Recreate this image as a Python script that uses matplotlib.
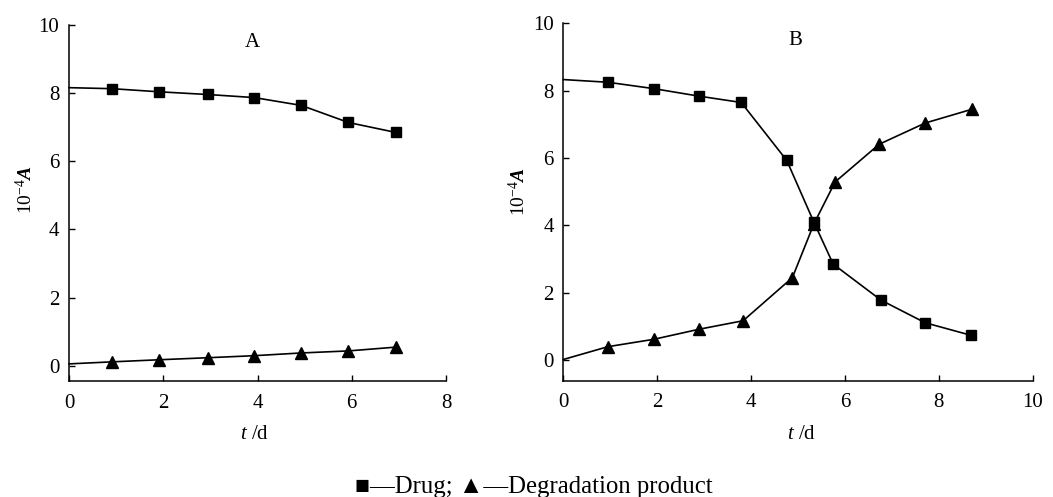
import matplotlib
matplotlib.use("Agg")
import matplotlib.pyplot as plt

plt.rcParams["font.family"] = ["Liberation Serif", "DejaVu Serif"]
plt.rcParams["mathtext.fontset"] = "custom"
plt.rcParams["mathtext.rm"] = "Liberation Serif"
plt.rcParams["mathtext.it"] = "Liberation Serif:italic"
plt.rcParams["mathtext.bf"] = "Liberation Serif:bold:italic"

# panel A
t_a = [0, 0.92, 1.90, 2.94, 3.93, 4.93, 5.93, 6.93]
drug_a = [8.15, 8.12, 8.03, 7.95, 7.86, 7.63, 7.13, 6.84]
deg_a = [0.06, 0.12, 0.18, 0.24, 0.30, 0.38, 0.44, 0.55]

# panel B
t_b = [0, 0.95, 1.93, 2.88, 3.79, 4.76, 5.34, 5.75, 6.77, 7.71, 8.68]
drug_b = [8.33, 8.25, 8.06, 7.84, 7.65, 5.93, 4.09, 2.85, 1.78, 1.11, 0.74]
t_b2 = [0, 0.95, 1.93, 2.90, 3.83, 4.88, 5.34, 5.79, 6.73, 7.71, 8.71]
deg_b = [0.02, 0.40, 0.62, 0.92, 1.17, 2.45, 4.05, 5.29, 6.41, 7.04, 7.45]

fig = plt.figure(figsize=(10.53, 4.97), dpi=100)
ax1 = fig.add_axes([0.0655, 0.2328, 0.3581, 0.7179])
ax2 = fig.add_axes([0.535, 0.234, 0.4457, 0.7191])


def style(ax, xmax, ymin):
    ax.set_xlim(0, xmax)
    ax.set_ylim(ymin, 10)
    ax.spines["top"].set_visible(False)
    ax.spines["right"].set_visible(False)
    for s in ["left", "bottom"]:
        ax.spines[s].set_linewidth(1.1)
    ax.set_xticks(range(0, xmax + 1, 2))
    ax.set_yticks(range(0, 11, 2))
    ax.tick_params(direction="in", length=4.5, width=1.0, labelsize=15)
    ax.tick_params(axis="x", pad=9)
    ax.tick_params(axis="y", pad=7)


def draw(ax, x, y, marker, ms):
    ax.plot(x, y, color="black", lw=1.2, clip_on=False, zorder=3)
    ax.plot(x[1:], y[1:], ls="none", marker=marker, ms=ms, color="black",
            clip_on=False, zorder=4)


# A
style(ax1, 8, -0.45)
draw(ax1, t_a, drug_a, "s", 6.5)
draw(ax1, t_a, deg_a, "^", 8)
ax1.text(3.89, 9.47, "A", fontsize=15, ha="center", va="center")
ax1.set_ylabel(r"$10^{-4}\mathbf{A}$", fontsize=14)
ax1.yaxis.set_label_coords(-0.088, 0.536)
ax1.set_xlabel(r"$\mathit{t}$ /d", fontsize=15)
ax1.xaxis.set_label_coords(0.493, -0.122)

# B
style(ax2, 10, -0.61)
draw(ax2, t_b, drug_b, "s", 6.5)
draw(ax2, t_b2, deg_b, "^", 8)
ax2.text(4.94, 9.5, "B", fontsize=15, ha="center", va="center")
ax2.set_ylabel(r"$10^{-4}\mathbf{A}$", fontsize=14)
ax2.yaxis.set_label_coords(-0.073, 0.53)
ax2.set_xlabel(r"$\mathit{t}$ /d", fontsize=15)
ax2.xaxis.set_label_coords(0.508, -0.124)

fig.text(0.507, 0.008, "\u25a0\u2014Drug; \u25b2\u2014Degradation product",
         fontsize=17.8, ha="center", va="baseline")

fig.savefig("out.png", dpi=100)
